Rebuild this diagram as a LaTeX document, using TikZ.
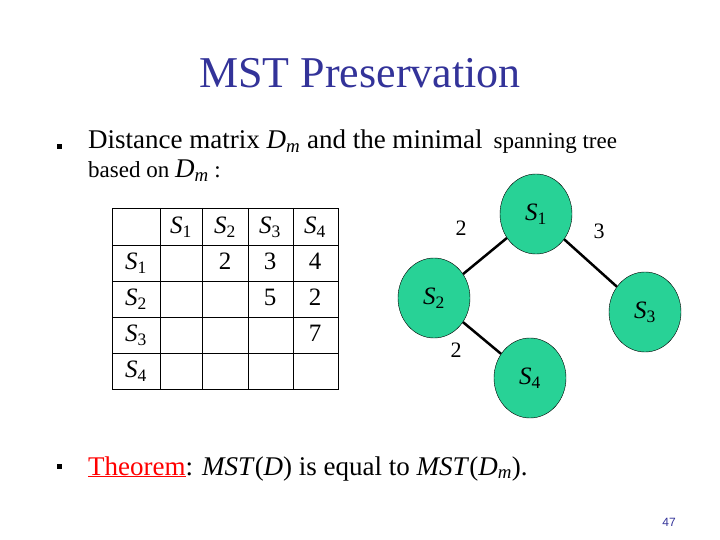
\documentclass[tikz,border=0pt]{standalone}
\usepackage{fontspec}
\setmainfont{Liberation Serif}
\setsansfont{Liberation Sans}
\usetikzlibrary{shapes.geometric}
\definecolor{tblue}{RGB}{51,51,153}
\definecolor{ngreen}{RGB}{40,210,150}
\newcommand{\Sv}[1]{\textit{S}\textsubscript{#1}}
\begin{document}
\begin{tikzpicture}[x=1pt,y=-1pt,
  nd/.style={ellipse,draw=black,fill=ngreen,minimum width=72pt,minimum height=80pt,font=\fontsize{25}{27}\selectfont},
  el/.style={font=\fontsize{22}{24}\selectfont},
  tc/.style={font=\fontsize{25}{27}\selectfont},
  edge/.style={line width=2.5pt},
  bul/.style={fill=black,minimum size=5pt,inner sep=0pt}]
\useasboundingbox (0,0) rectangle (720,540);
\node[tblue,font=\fontsize{44}{48}\selectfont] (title) at (360,73) {MST Preservation};
\node[bul] (b1) at (59,147) {};
\node[anchor=base west,inner sep=0pt,font=\fontsize{27}{29}\selectfont] (l1) at (88,149) {Distance matrix \textit{D}\textsubscript{\textit{m}} and the minimal\, {\fontsize{23}{25}\selectfont spanning tree}};
\node[anchor=base west,inner sep=0pt,font=\fontsize{23}{25}\selectfont] (l2) at (88,178) {based on {\fontsize{27}{29}\selectfont\textit{D}\textsubscript{\textit{m}}} :};
% table
\draw[line width=0.8pt] (112,208) rectangle (338,389);
\foreach \x in {160,202,248,293} \draw[line width=0.8pt] (\x,208) -- (\x,389);
\foreach \y in {245,281,317,353} \draw[line width=0.8pt] (112,\y) -- (338,\y);
\foreach \c/\x in {1/181,2/225,3/270,4/315} {
  \node[tc] (h\c) at (\x,227) {\Sv{\c}};
  \node[tc] (r\c) at (136,227+36*\c) {\Sv{\c}};
}
\node[tc] (m12) at (225,261) {2};
\node[tc] (m13) at (270,261) {3};
\node[tc] (m14) at (315,261) {4};
\node[tc] (m23) at (270,297) {5};
\node[tc] (m24) at (315,297) {2};
\node[tc] (m34) at (315,333) {7};
% tree
\node[nd] (s1) at (536,214) {\Sv{1}};
\node[nd] (s2) at (434,298) {\Sv{2}};
\node[nd] (s3) at (645,312) {\Sv{3}};
\node[nd] (s4) at (530,378) {\Sv{4}};
\draw[edge] (s1) -- (s2);
\draw[edge] (s1) -- (s3);
\draw[edge] (s2) -- (s4);
\node[el] (e12) at (461,228) {2};
\node[el] (e13) at (599,231) {3};
\node[el] (e24) at (456,350) {2};
\node[bul] (b2) at (59,466) {};
\node[anchor=base west,inner sep=0pt,font=\fontsize{27}{29}\selectfont] (l3) at (88,475) {{\color{red}\underline{Theorem}}: \textit{MST}(\textit{D}) is equal to \textit{MST}(\textit{D}\textsubscript{\textit{m}}).};
\node[tblue,font=\sffamily\fontsize{12}{14}\selectfont] (pg) at (669,522) {47};
\end{tikzpicture}
\end{document}
